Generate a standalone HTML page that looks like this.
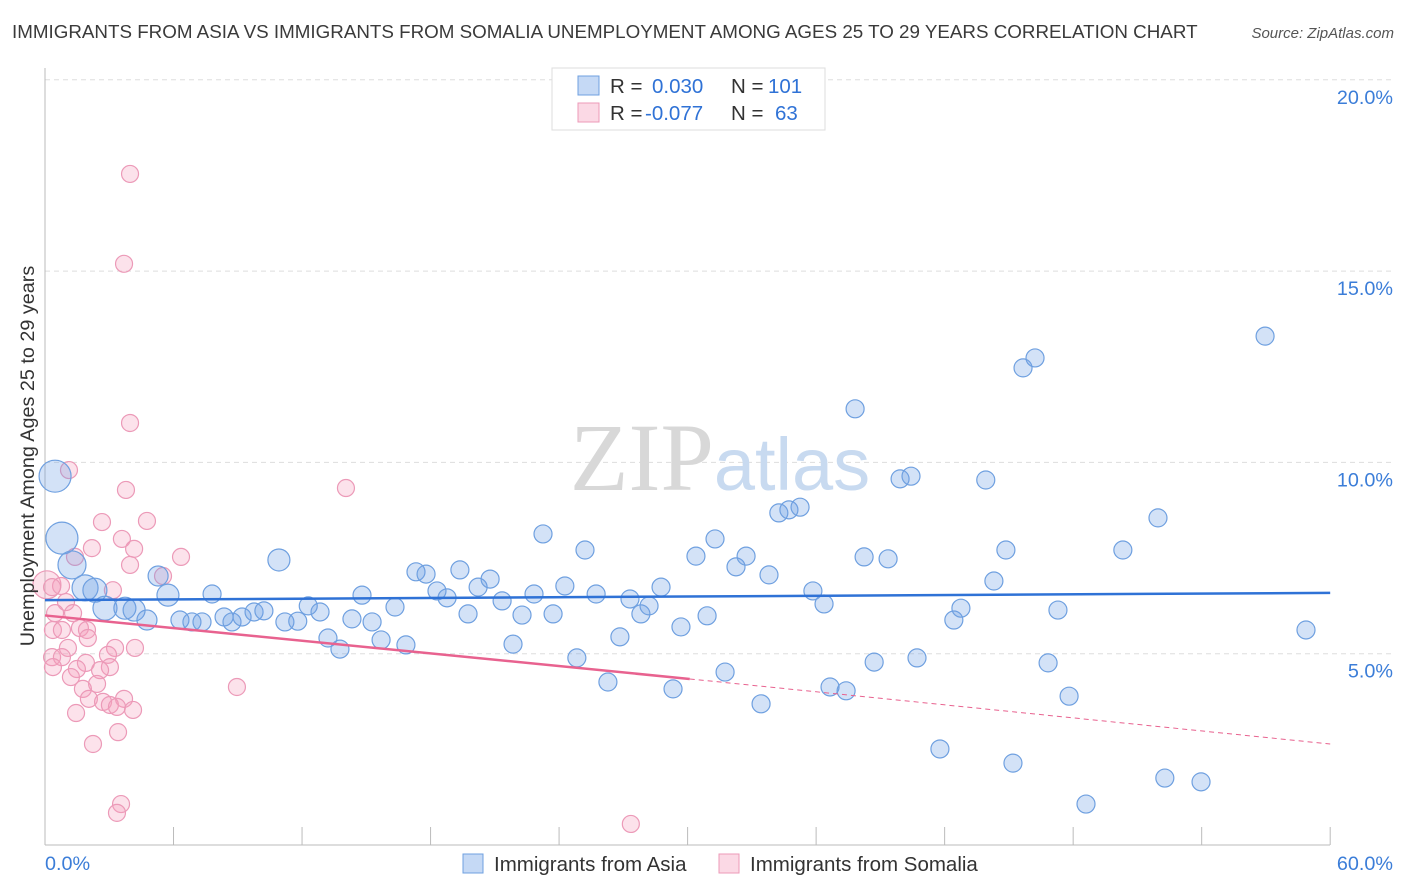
<!DOCTYPE html>
<html><head><meta charset="utf-8"><style>
body{margin:0;background:#fff;font-family:"Liberation Sans",sans-serif;}
#wrap{position:relative;width:1406px;height:892px;overflow:hidden;}
.title{position:absolute;left:12px;top:21px;font-size:18.8px;color:#3a3a3a;white-space:nowrap;}
.src{position:absolute;right:12px;top:25px;font-size:15px;color:#555;font-style:italic;}
</style></head><body>
<div id="wrap">
<div class="title">IMMIGRANTS FROM ASIA VS IMMIGRANTS FROM SOMALIA UNEMPLOYMENT AMONG AGES 25 TO 29 YEARS CORRELATION CHART</div>
<div class="src">Source: ZipAtlas.com</div>
<svg id="svg" width="1406" height="892" style="position:absolute;left:0;top:0"></svg>
</div>
<script>
const xTicks=[0,6,12,18,24,30,36,42,48,54,60];
const yTicks=[5,10,15,20];
const blueX=[0.47,0.79,1.26,1.87,2.33,2.8,3.73,4.16,4.76,5.28,5.74,6.3,6.86,7.33,7.8,8.36,8.73,9.2,9.76,10.22,10.92,11.2,11.8,12.29,12.84,13.21,13.77,14.33,14.8,15.27,15.69,16.34,16.85,17.32,17.79,18.3,18.77,19.37,19.75,20.22,20.78,21.34,21.85,22.27,22.83,23.25,23.72,24.27,24.83,25.21,25.73,26.28,26.84,27.31,27.82,28.2,28.76,29.32,29.69,30.39,30.91,31.28,31.75,32.26,32.73,33.43,33.8,34.26,34.73,35.25,35.85,36.37,36.65,37.4,37.82,38.24,38.71,39.36,39.92,40.43,40.71,41.78,42.43,42.76,43.92,44.3,44.86,45.19,45.66,46.22,46.83,47.29,47.81,48.6,50.32,51.96,52.28,53.97,56.96,58.87];
const blueY=[9.64,8.02,7.32,6.72,6.66,6.19,6.19,6.14,5.88,7.03,6.53,5.88,5.83,5.83,6.56,5.96,5.83,5.96,6.09,6.12,7.45,5.83,5.85,6.25,6.09,5.41,5.12,5.91,6.53,5.83,5.36,6.22,5.23,7.14,7.08,6.64,6.46,7.19,6.04,6.74,6.95,6.38,5.25,6.01,6.56,8.13,6.04,6.77,4.89,7.71,6.56,4.26,5.44,6.43,6.04,6.25,6.74,4.08,5.7,7.55,5.99,8.0,4.52,7.27,7.55,3.69,7.06,8.68,8.76,8.83,6.64,6.3,4.13,4.03,11.4,7.53,4.78,7.48,9.57,9.64,4.89,2.51,5.88,6.19,9.54,6.9,7.71,2.14,12.47,12.73,4.76,6.14,3.89,1.07,7.71,8.55,1.75,1.65,13.3,5.62];
const blueSize=[16,16,14,13,12,12,11,11,10,10,11,9,9,9,9,9,9,9,9,9,11];
const pinkX=[3.97,3.69,3.97,1.12,3.78,14.05,2.66,4.76,2.19,3.59,4.16,6.35,1.4,5.51,0.09,3.97,3.17,0.75,0.33,0.98,0.47,1.31,0.37,0.79,1.63,1.96,2.0,1.07,3.27,4.2,0.33,0.79,2.94,0.37,1.91,3.03,1.49,2.57,1.21,2.43,1.77,2.05,3.69,2.71,3.03,3.36,4.11,1.45,8.96,3.41,2.24,3.55,3.36,27.35];
const pinkY=[17.54,15.19,11.03,9.8,9.28,9.33,8.44,8.47,7.76,8.0,7.74,7.53,7.53,7.03,6.8,7.32,6.66,6.77,6.74,6.35,6.06,6.06,5.62,5.62,5.67,5.62,5.41,5.15,5.15,5.15,4.91,4.91,4.97,4.65,4.76,4.65,4.6,4.57,4.39,4.21,4.08,3.82,3.82,3.74,3.66,3.61,3.53,3.45,4.13,2.95,2.64,1.07,0.84,0.55];
const blueTrend=[6.4,6.59];
const pinkTrend=[6.0,4.34,2.64];
const pinkSolidEnd=30.1;

const X=v=>45+v*21.42, Y=v=>845-v*38.26;
const svg=document.getElementById('svg');const NS='http://www.w3.org/2000/svg';
function mk(t,a,p){const e=document.createElementNS(NS,t);for(const k in a)e.setAttribute(k,a[k]);(p||svg).appendChild(e);return e;}
yTicks.forEach(t=>{
const g=mk('line',{x1:45,x2:1393,y1:Y(t),y2:Y(t),stroke:'#ddd','stroke-dasharray':'5,4'});


const tx=mk('text',{x:1393,y:Y(t)+24,'text-anchor':'end','font-size':19.8,fill:'#3b7dd8'});


tx.textContent=t.toFixed(1)+'%';});
const ax=mk('line',{x1:45,x2:1330,y1:845,y2:845,stroke:'#bbb'});


const ay=mk('line',{x1:45,x2:45,y1:68,y2:845,stroke:'#bbb'});


xTicks.forEach(t=>{const l=mk('line',{x1:X(t),x2:X(t),y1:827,y2:845,stroke:'#bbb'});

});
[[0,'start','0.0%',45],[60,'end','60.0%',1393]].forEach(a=>{const t=mk('text',{x:a[3],y:870,'text-anchor':a[1],'font-size':19.8,fill:'#3b7dd8'});


t.textContent=a[2];});
const wm=mk('text',{x:720,y:490,'text-anchor':'middle','font-size':96});


wm.innerHTML='<tspan font-family="Liberation Serif" fill="#d8d8d8">ZIP</tspan><tspan font-family="Liberation Sans" fill="#c8daf0" font-size="74">atlas</tspan>';
pinkX.forEach((v,i)=>{const c=mk('circle',{cx:X(v),cy:Y(pinkY[i]),r:i==14?14:8.5,fill:'rgba(244,160,190,0.3)',stroke:'#ec9ab8','stroke-width':1.2});

});
blueX.forEach((v,i)=>{const c=mk('circle',{cx:X(v),cy:Y(blueY[i]),r:blueSize[i]||9,fill:'rgba(110,160,230,0.3)',stroke:'#6fa0e0','stroke-width':1.2});

});
const bt=mk('line',{x1:X(0),x2:X(60),y1:Y(blueTrend[0]),y2:Y(blueTrend[1]),stroke:'#2f72d6','stroke-width':2.5});


const pt=mk('line',{x1:X(0),x2:X(pinkSolidEnd),y1:Y(pinkTrend[0]),y2:Y(pinkTrend[1]),stroke:'#e8628f','stroke-width':2.5});


const pd=mk('line',{x1:X(pinkSolidEnd),x2:X(60),y1:Y(pinkTrend[1]),y2:Y(pinkTrend[2]),stroke:'#e8628f','stroke-width':1,'stroke-dasharray':'5,4'});


const yl=mk('text',{x:0,y:0,transform:'translate(34,456) rotate(-90)','text-anchor':'middle','font-size':19.8,fill:'#333'});


yl.textContent='Unemployment Among Ages 25 to 29 years';
const lg=mk('g',{});


mk('rect',{x:552,y:68,width:273,height:62,fill:'#fff',stroke:'#ddd'},lg);
[[86,'rgba(110,160,230,0.4)','#6fa0e0','0.030','101',652,768],[113,'rgba(244,160,190,0.4)','#ec9ab8','-0.077','63',645,775]].forEach(r=>{
const s=mk('rect',{x:578,y:r[0]-10,width:21,height:19,fill:r[1],stroke:r[2]},lg);


const t=mk('text',{x:610,y:r[0]+7,'font-size':20.5,fill:'#333'},lg);


t.innerHTML='R = <tspan fill="#2f72d6" x="'+r[5]+'">'+r[3]+'</tspan><tspan x="731">N = </tspan><tspan fill="#2f72d6" x="'+r[6]+'">'+r[4]+'</tspan>';});
[[463,'rgba(110,160,230,0.4)','#6fa0e0','Immigrants from Asia'],[719,'rgba(244,160,190,0.4)','#ec9ab8','Immigrants from Somalia']].forEach(r=>{
const s=mk('rect',{x:r[0],y:854,width:20,height:19,fill:r[1],stroke:r[2]});


const t=mk('text',{x:r[0]+31,y:871,'font-size':20.5,fill:'#333'});


t.textContent=r[3];});
</script>
</body></html>
